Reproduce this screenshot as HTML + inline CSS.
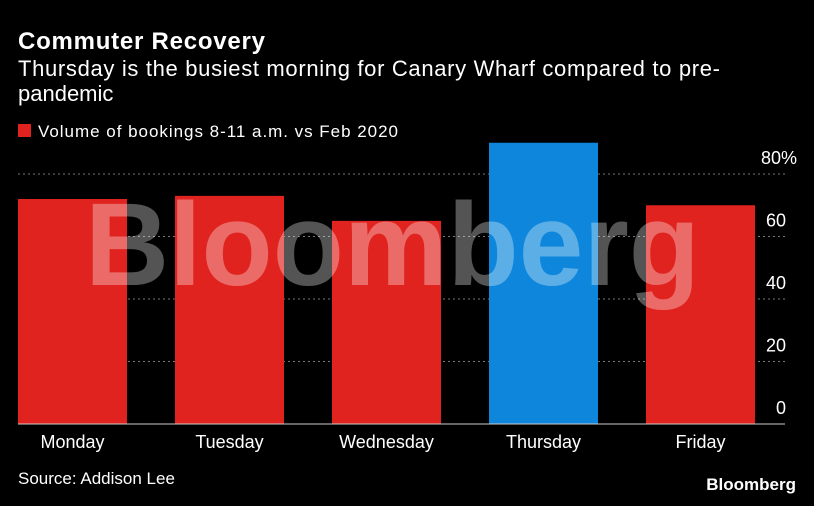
<!DOCTYPE html>
<html><head><meta charset="utf-8"><style>
body{margin:0;background:#000;width:814px;height:501px;overflow:hidden;font-family:"Liberation Sans",sans-serif;color:#fff}
</style></head><body>
<svg width="814" height="501" id="c">
<text x="18" y="49" font-size="24" font-weight="bold" fill="#fff" textLength="247">Commuter Recovery</text>
<text x="18" y="76" font-size="22" fill="#fff" textLength="702">Thursday is the busiest morning for Canary Wharf compared to pre-</text>
<text x="18" y="101" font-size="22" fill="#fff">pandemic</text>
<rect x="18" y="124" width="13" height="13" fill="#e0231f"/>
<text x="38" y="137" font-size="17" fill="#fff" textLength="360">Volume of bookings 8-11 a.m. vs Feb 2020</text>
<g id="grid"></g><g id="bars"></g>
<text x="85" y="285" font-size="118" font-weight="bold" fill="#fff" fill-opacity="0.33" textLength="615" lengthAdjust="spacingAndGlyphs">Bloomberg</text>
<g id="labels"></g>
<text x="18" y="484" font-size="17" fill="#fff">Source: Addison Lee</text>
<text x="796" y="490" font-size="17" font-weight="bold" fill="#fff" text-anchor="end">Bloomberg</text>
</svg>
<script>
const categories=["Monday","Tuesday","Wednesday","Thursday","Friday"];
const values=[72,73,65,90,70];
const highlight=[false,false,false,true,false];
const ticks=[0,20,40,60,80];
const tickLabels=["0","20","40","60","80%"];
const NS="http://www.w3.org/2000/svg";
const y0=424,k=3.125,x0=18,step=157,bw=109;
const y=v=>y0-v*k;
function mk(t,a,p){const e=document.createElementNS(NS,t);for(const n in a)e.setAttribute(n,a[n]);document.getElementById(p).appendChild(e);return e;}
ticks.forEach((t,i)=>{
 if(t>0){const l=mk('line',{x1:18,x2:785,y1:y(t),y2:y(t),stroke:'#777','stroke-dasharray':'2,3'},'grid');
 
 }
 const last=i===ticks.length-1;
 const tx=mk('text',{x:last?797:786,y:y(t)-10,'font-size':18,fill:'#fff','text-anchor':'end'},'labels');
 tx.textContent=tickLabels[i];
 
 
});
categories.forEach((c,i)=>{
 const r=mk('rect',{x:x0+i*step,y:y(values[i]),width:bw,height:values[i]*k,fill:highlight[i]?'#0d86dc':'#e0231f'},'bars');
 
 
 const t=mk('text',{x:x0+i*step+bw/2,y:448,'font-size':18,fill:'#fff','text-anchor':'middle'},'labels');
 t.textContent=c;
 
 
});
const ax=mk('line',{x1:18,x2:785,y1:y0,y2:y0,stroke:'#ccc','stroke-width':1},'labels');


</script>
</body></html>
